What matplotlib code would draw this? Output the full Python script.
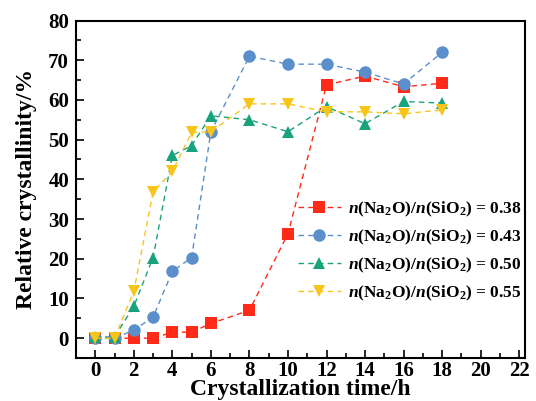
import matplotlib
matplotlib.use("Agg")
import matplotlib.pyplot as plt
from matplotlib.ticker import MultipleLocator

plt.rcParams['font.family'] = ['Liberation Serif', 'DejaVu Serif']
plt.rcParams['font.weight'] = 'bold'
plt.rcParams['mathtext.fontset'] = 'custom'
plt.rcParams['mathtext.rm'] = 'Liberation Serif:weight=bold'
plt.rcParams['mathtext.it'] = 'Liberation Serif:style=italic:weight=bold'
plt.rcParams['mathtext.bf'] = 'Liberation Serif:weight=bold'
plt.rcParams['mathtext.default'] = 'rm'

time = [0, 1, 2, 3, 4, 5, 6, 8, 10, 12, 14, 16, 18]
r038 = [0, 0, 0, 0, 1.5, 1.5, 3.7, 7.0, 26.3, 63.8, 66.0, 63.3, 64.2]
r043 = [0, 0, 2.0, 5.3, 16.8, 20.3, 52.0, 71.0, 69.0, 69.0, 67.0, 64.0, 72.0]
r050 = [0.3, 0.3, 8.0, 20.3, 46.0, 48.5, 56.0, 55.0, 52.0, 58.3, 54.0, 59.6, 59.2]
r055 = [0, 0, 11.8, 36.8, 42.0, 51.8, 52.0, 59.0, 59.0, 57.0, 57.0, 56.5, 57.5]
labels = ['0.38', '0.43', '0.50', '0.55']

fig = plt.figure(figsize=(5.36, 4.01), dpi=100)
ax = fig.add_axes([76/536, 1 - 358/401, (525-76)/536, (358-20.5)/401])

series = [
    (r038, 's', '#ff2a17', 8),
    (r043, 'o', '#5b8fcc', 9),
    (r050, '^', '#18a37c', 9),
    (r055, 'v', '#f7c51a', 9),
]
for (vals, m, c, ms), lab in zip(series, labels):
    ax.plot(time, vals, linestyle=(0, (4, 3)), lw=1.0, color=c, marker=m,
            markersize=ms, markeredgewidth=0,
            label=r'$\mathit{n}$(Na$_{2}$O)/$\mathit{n}$(SiO$_{2}$) = ' + lab)

ax.set_xlim(-1, 22.3)
ax.set_ylim(-5, 80)
ax.xaxis.set_major_locator(MultipleLocator(2))
ax.xaxis.set_minor_locator(MultipleLocator(1))
ax.yaxis.set_major_locator(MultipleLocator(10))
ax.yaxis.set_minor_locator(MultipleLocator(5))
ax.tick_params(which='both', direction='in', top=False, right=False, width=1.2)
ax.tick_params(which='major', length=6, labelsize=15)
ax.tick_params(axis='x', which='major', pad=2)
ax.tick_params(axis='y', which='major', pad=5)
ax.tick_params(which='minor', length=3.5)
for lbl in ax.get_xticklabels() + ax.get_yticklabels():
    lbl.set_fontweight('bold')
for s in ax.spines.values():
    s.set_linewidth(1.5)

ax.set_xlabel('Crystallization time/h', fontsize=17, fontweight='bold', labelpad=-1)
ax.set_ylabel('Relative crystallinity/%', fontsize=17, fontweight='bold', labelpad=8)

leg = ax.legend(loc='center left', bbox_to_anchor=(0.478, 0.316), frameon=False,
                prop={'size': 12.5, 'weight': 'bold'}, handlelength=2.5,
                handletextpad=0.4, labelspacing=0.5, borderaxespad=0)

fig.savefig('out.png', dpi=100)
